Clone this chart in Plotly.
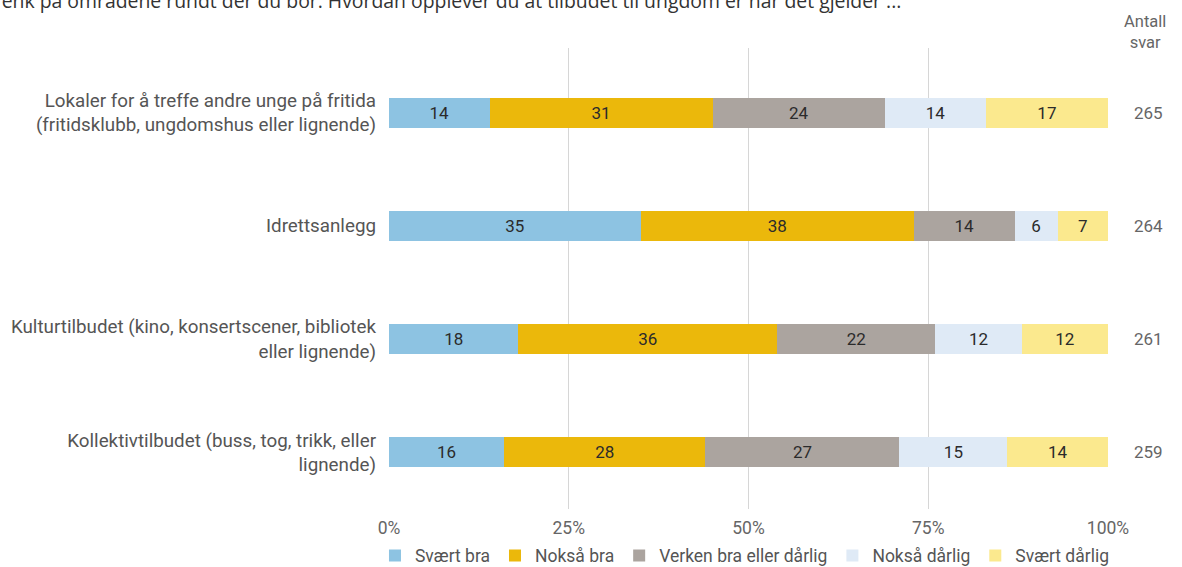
import plotly.graph_objects as go

categories = [
    "Lokaler for å treffe andre unge på fritida<br>(fritidsklubb, ungdomshus eller lignende)",
    "Idrettsanlegg",
    "Kulturtilbudet (kino, konsertscener, bibliotek<br>eller lignende)",
    "Kollektivtilbudet (buss, tog, trikk, eller<br>lignende)",
]
answers = ["Svært bra", "Nokså bra", "Verken bra eller dårlig", "Nokså dårlig", "Svært dårlig"]
svaert_bra = [14, 35, 18, 16]
noksaa_bra = [31, 38, 36, 28]
verken = [24, 14, 22, 27]
noksaa_daarlig = [14, 6, 12, 15]
svaert_daarlig = [17, 7, 12, 14]
antall_svar = [265, 264, 261, 259]
x_ticks = [0, 25, 50, 75, 100]
x_ticktext = ["0%", "25%", "50%", "75%", "100%"]

title = "Tenk på områdene rundt der du bor. Hvordan opplever du at tilbudet til ungdom er når det gjelder ..."

series = [svaert_bra, noksaa_bra, verken, noksaa_daarlig, svaert_daarlig]
colors = ["#8dc3e2", "#ebb80b", "#aba49f", "#dfeaf6", "#fbe98e"]

FONT = "Roboto, Arial, sans-serif"
ypos = list(range(len(categories)))

fig = go.Figure()
for name, vals, col in zip(answers, series, colors):
    fig.add_trace(go.Bar(
        y=ypos, x=vals, name=name, orientation="h",
        marker=dict(color=col, line=dict(width=0)),
        width=0.265,
        text=[str(v) for v in vals], textposition="inside",
        insidetextanchor="middle",
        textfont=dict(color="#2b2b2b", size=17, family=FONT),
        hoverinfo="skip",
    ))

# antall svar per rad
for y, n in zip(ypos, antall_svar):
    fig.add_annotation(x=1.079, xref="paper", y=y, yref="y", text=str(n),
                       showarrow=False, font=dict(size=17, color="#666666", family=FONT))

fig.add_annotation(x=1.084, xref="paper", y=1.0, yref="paper", yanchor="bottom",
                   text="Antall<br>svar", showarrow=False, yshift=-6,
                   font=dict(size=16.5, color="#666666", family=FONT))

# title, top half cut off like in the screenshot
fig.add_annotation(x=-0.556, xref="paper", xanchor="left", y=1.104, yref="paper",
                   yanchor="middle", text=title, showarrow=False,
                   font=dict(size=19.4, color="#333333", family="Open Sans, sans-serif"))

fig.update_layout(
    barmode="stack",
    width=1182, height=567,
    margin=dict(l=389, r=74, t=48, b=58, autoexpand=False),
    plot_bgcolor="white", paper_bgcolor="white",
    font=dict(family=FONT, size=17, color="#555555"),
    showlegend=True,
    legend=dict(orientation="h", x=-0.0195, xanchor="left", y=-0.062, yanchor="top",
                font=dict(size=17.5, color="#555555"), traceorder="normal",
                itemwidth=30),
    xaxis=dict(range=[0, 100], tickvals=x_ticks, ticktext=x_ticktext,
               showgrid=True, gridcolor="#d6d6d6", gridwidth=1, zeroline=False,
               showline=False, ticklabelstandoff=6,
               tickfont=dict(size=17.5, color="#666666"), fixedrange=True),
    yaxis=dict(tickvals=ypos, ticktext=categories, range=[3.5, -0.57],
               showgrid=False, zeroline=False, showline=False,
               ticklabelstandoff=12, tickfont=dict(size=18.8, color="#555555")),
)

fig.write_html("out.html", config={"displayModeBar": False},
               post_script="document.body.style.margin='0';")
